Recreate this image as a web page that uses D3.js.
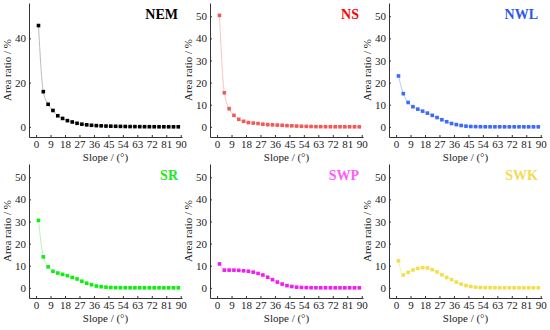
<!DOCTYPE html>
<html lang="en">
<head>
  <meta charset="UTF-8" />
  <title>Area ratio by slope</title>
  <script src="https://d3js.org/d3.v7.min.js"></script>
  <style>
    body {
      margin: 0;
      background: #fff;
    }

    svg {
      display: block;
    }

    svg text {
      font-family: "Liberation Serif", "Times New Roman", Times, "DejaVu Serif", serif;
    }

    .axis path,
    .axis line {
      stroke: #333;
      stroke-width: 1px;
    }

    .axis text {
      font-size: 11px;
      fill: #222;
    }

    .label {
      font-size: 11px;
      fill: #222;
    }

    .title {
      font-size: 14px;
      font-weight: bold;
    }
  </style>
</head>
<body>
  <svg width="550" height="330"></svg>
  <script>
    // slope class midpoints, 3 degree bins
    const slopes = d3.range(30).map(i => 1.5 + i * 3);
    const xTicks = [0, 9, 18, 27, 36, 45, 54, 63, 72, 81, 90];

    const NEM = [45.8, 15.9, 10.2, 7.4, 5.0, 3.8, 2.8, 2.2, 1.6, 1.2, 0.9, 0.7, 0.55, 0.45, 0.35,
      0.3, 0.25, 0.2, 0.15, 0.12, 0.1, 0.08, 0.06, 0.05, 0.04, 0.03, 0.02, 0.02, 0.01, 0.01];
    const NS = [50.4, 15.4, 8.2, 5.2, 3.4, 2.5, 1.9, 1.7, 1.5, 1.2, 1.0, 0.9, 0.8, 0.7, 0.55,
      0.45, 0.35, 0.25, 0.2, 0.15, 0.1, 0.08, 0.06, 0.05, 0.04, 0.03, 0.02, 0.02, 0.01, 0.01];
    const NWL = [23, 15, 11, 9.1, 8, 7.1, 6.2, 5.2, 4.2, 3.2, 2.3, 1.5, 1.0, 0.6, 0.3,
      0.15, 0.1, 0.05, 0.03, 0.02, 0.01, 0.01, 0, 0, 0, 0, 0, 0, 0, 0];
    const SR = [30.5, 14, 9.5, 7.5, 6.7, 6.1, 5.5, 4.7, 4.0, 3.0, 2.1, 1.4, 0.8, 0.5, 0.3,
      0.15, 0.1, 0.05, 0.03, 0.02, 0.01, 0.01, 0, 0, 0, 0, 0, 0, 0, 0];
    const SWP = [10.8, 8.0, 8.0, 8.0, 7.9, 7.7, 7.5, 7.1, 6.5, 5.8, 4.8, 3.7, 2.6, 1.7, 1.0,
      0.6, 0.3, 0.15, 0.1, 0.05, 0.03, 0.02, 0.01, 0, 0, 0, 0, 0, 0, 0];
    const SWK = [12.2, 5.8, 7.0, 8.1, 8.8, 9.1, 9.0, 8.2, 7.2, 5.9, 4.7, 3.7, 2.6, 1.7, 1.0,
      0.6, 0.3, 0.15, 0.1, 0.05, 0.03, 0.02, 0.01, 0, 0, 0, 0, 0, 0, 0];

    const panels = [
      { name: "NEM", values: NEM, yTicks: [0, 20, 40], title: "#000", mark: "#000", line: "#bbb" },
      { name: "NS", values: NS, yTicks: [0, 10, 20, 30, 40, 50], title: "#f00", mark: "#f25a5a", line: "#fbc4c4" },
      { name: "NWL", values: NWL, yTicks: [0, 10, 20, 30, 40, 50], title: "#2a55ee", mark: "#3d6bf5", line: "#b8c8fa" },
      { name: "SR", values: SR, yTicks: [0, 10, 20, 30, 40, 50], title: "#1ee81e", mark: "#10ee10", line: "#b6f7b6" },
      { name: "SWP", values: SWP, yTicks: [0, 10, 20, 30, 40, 50], title: "#ff5cff", mark: "#f01ef0", line: "#f8b8f8" },
      { name: "SWK", values: SWK, yTicks: [0, 10, 20, 30, 40, 50], title: "#f0dc55", mark: "#f0e050", line: "#f8efb0" }
    ];

    const lefts = [29, 210, 389];
    const tops = [3, 164];
    const w = 153, h = 134;

    const svg = d3.select("svg");

    const x = d3.scaleLinear().domain([-4.4, 90.8]).range([0, w]);
    const y = d3.scaleLinear().domain([-4.6, 56]).range([h, 0]);

    panels.forEach((p, i) => {
      const g = svg.append("g")
        .attr("transform", `translate(${lefts[i % 3]},${tops[Math.floor(i / 3)]})`);

      g.append("g")
        .attr("class", "axis")
        .attr("transform", `translate(0,${h})`)
        .call(d3.axisBottom(x).tickValues(xTicks).tickSizeInner(-2).tickSizeOuter(0).tickPadding(3))
        .attr("font-family", null);

      g.append("g")
        .attr("class", "axis")
        .call(d3.axisLeft(y).tickValues(p.yTicks).tickSizeInner(-2).tickSizeOuter(0).tickPadding(3))
        .attr("font-family", null);

      const pts = slopes.map((s, k) => [s, p.values[k]]);

      g.append("path")
        .datum(pts)
        .attr("fill", "none")
        .attr("stroke", p.line)
        .attr("stroke-width", 1)
        .attr("d", d3.line().x(d => x(d[0])).y(d => y(d[1])).curve(d3.curveMonotoneX));

      g.selectAll("rect.pt")
        .data(pts)
        .join("rect")
        .attr("class", "pt")
        .attr("x", d => x(d[0]) - 1.8)
        .attr("y", d => y(d[1]) - 1.8)
        .attr("width", 3.6)
        .attr("height", 3.6)
        .attr("fill", p.mark);

      g.append("text")
        .attr("class", "title")
        .attr("x", w - 4)
        .attr("y", 16)
        .attr("text-anchor", "end")
        .attr("fill", p.title)
        .text(p.name);

      g.append("text")
        .attr("class", "label")
        .attr("x", w / 2)
        .attr("y", h + 24)
        .attr("text-anchor", "middle")
        .text("Slope / (°)");

      g.append("text")
        .attr("class", "label")
        .attr("transform", `translate(-18,${h / 2}) rotate(-90)`)
        .attr("text-anchor", "middle")
        .text("Area ratio / %");
    });
  </script>
</body>
</html>
